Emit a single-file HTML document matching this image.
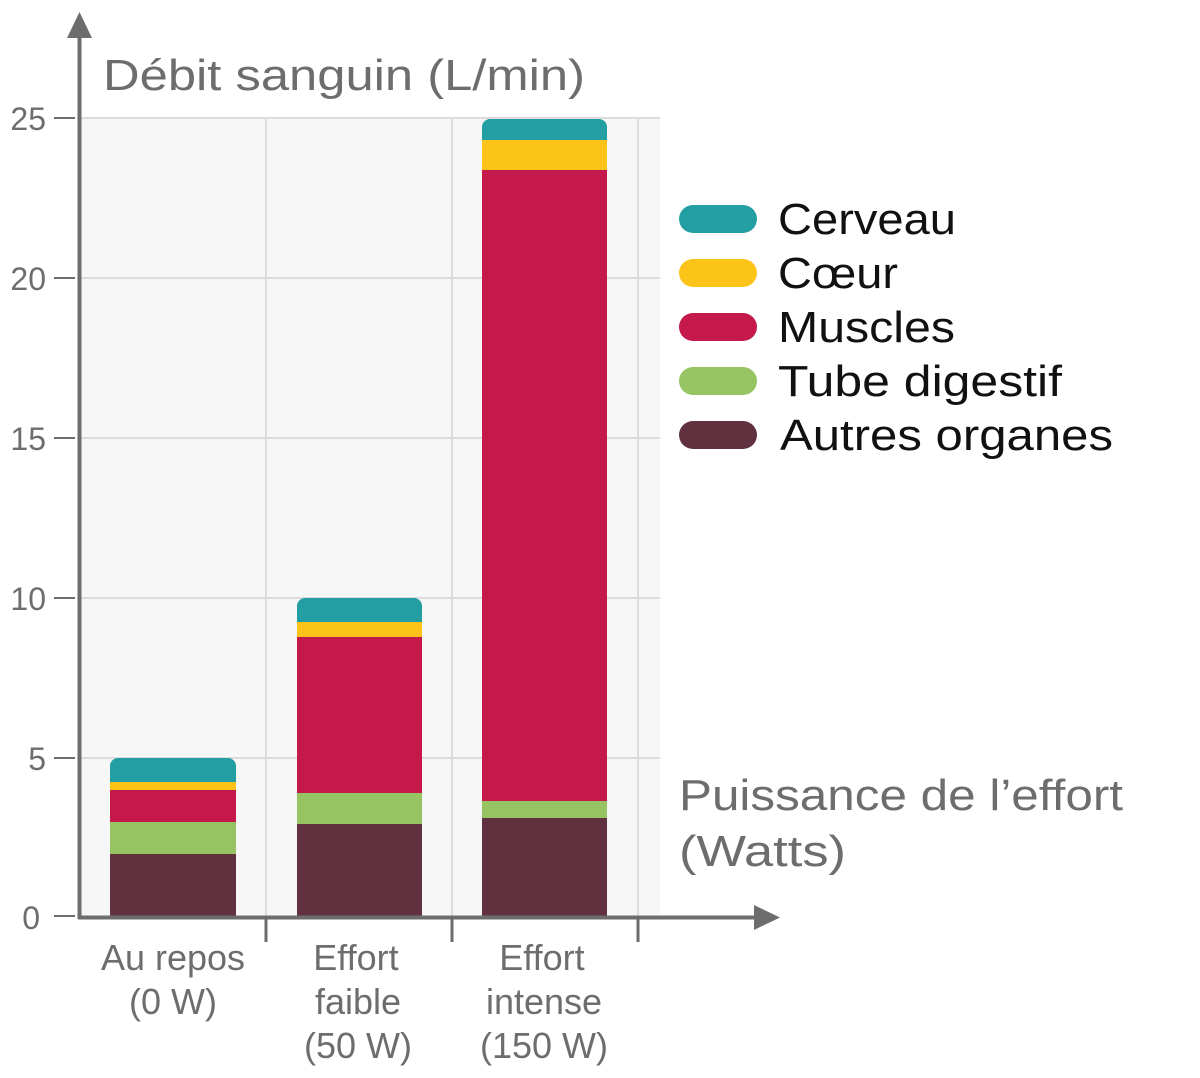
<!DOCTYPE html>
<html><head><meta charset="utf-8"><style>
html,body{margin:0;padding:0;background:#fff;width:1200px;height:1078px;overflow:hidden}
svg text{font-family:"Liberation Sans",sans-serif;fill:#6d6d6d}
svg text.leg{fill:#111}
</style></head><body>
<svg width="1200" height="1078" viewBox="0 0 1200 1078" xmlns="http://www.w3.org/2000/svg">
<rect x="80" y="118" width="580" height="799" fill="#f7f7f7"/>
<g stroke="#dcdcdc" stroke-width="2">
<line x1="80" y1="118" x2="660" y2="118"/>
<line x1="80" y1="278" x2="660" y2="278"/>
<line x1="80" y1="438" x2="660" y2="438"/>
<line x1="80" y1="598" x2="660" y2="598"/>
<line x1="80" y1="758" x2="660" y2="758"/>
<line x1="266" y1="118" x2="266" y2="917"/>
<line x1="452" y1="118" x2="452" y2="917"/>
<line x1="638" y1="118" x2="638" y2="917"/>
</g>
<path d="M110,917V766a8,8 0 0 1 8,-8H228a8,8 0 0 1 8,8V917Z" fill="#239fa3"/>
<rect x="110" y="782" width="126" height="8" fill="#fcc419"/>
<rect x="110" y="790" width="126" height="32" fill="#c4194a"/>
<rect x="110" y="822" width="126" height="32" fill="#96c462"/>
<rect x="110" y="854" width="126" height="63" fill="#613140"/>
<path d="M297,917V606a8,8 0 0 1 8,-8H414a8,8 0 0 1 8,8V917Z" fill="#239fa3"/>
<rect x="297" y="622" width="125" height="15" fill="#fcc419"/>
<rect x="297" y="637" width="125" height="156" fill="#c4194a"/>
<rect x="297" y="793" width="125" height="31" fill="#96c462"/>
<rect x="297" y="824" width="125" height="93" fill="#613140"/>
<path d="M482,917V127a8,8 0 0 1 8,-8H599a8,8 0 0 1 8,8V917Z" fill="#239fa3"/>
<rect x="482" y="140" width="125" height="30" fill="#fcc419"/>
<rect x="482" y="170" width="125" height="631" fill="#c4194a"/>
<rect x="482" y="801" width="125" height="17" fill="#96c462"/>
<rect x="482" y="818" width="125" height="99" fill="#613140"/>
<g stroke="#6d6d6d">
<line x1="79.5" y1="30" x2="79.5" y2="919" stroke-width="4"/>
<line x1="78" y1="917.5" x2="760" y2="917.5" stroke-width="4"/>
<g stroke-width="2">
<line x1="54" y1="118" x2="75" y2="118"/>
<line x1="54" y1="278" x2="75" y2="278"/>
<line x1="54" y1="438" x2="75" y2="438"/>
<line x1="54" y1="598" x2="75" y2="598"/>
<line x1="54" y1="758" x2="75" y2="758"/>
<line x1="54" y1="916" x2="75" y2="916"/>
</g>
<g stroke-width="3">
<line x1="266" y1="919" x2="266" y2="942"/>
<line x1="452" y1="919" x2="452" y2="942"/>
<line x1="638" y1="919" x2="638" y2="942"/>
</g>
</g>
<polygon points="79.5,12 67,38 92,38" fill="#6d6d6d"/>
<polygon points="780,917.5 754,905 754,930" fill="#6d6d6d"/>
<g font-size="32" text-anchor="end">
<text x="46" y="130">25</text>
<text x="46" y="290">20</text>
<text x="46" y="450">15</text>
<text x="46" y="610">10</text>
<text x="46" y="770">5</text>
<text x="40" y="929">0</text>
</g>
<text x="103" y="90" font-size="44" textLength="482" lengthAdjust="spacingAndGlyphs">Débit sanguin (L/min)</text>
<text x="679" y="810" font-size="44" textLength="444" lengthAdjust="spacingAndGlyphs">Puissance de l’effort</text>
<text x="679" y="866" font-size="44" textLength="167" lengthAdjust="spacingAndGlyphs">(Watts)</text>
<g font-size="36" text-anchor="middle">
<text x="173" y="970">Au repos</text>
<text x="173" y="1014">(0 W)</text>
<text x="356" y="970">Effort</text>
<text x="358" y="1014">faible</text>
<text x="358" y="1058">(50 W)</text>
<text x="542" y="970">Effort</text>
<text x="544" y="1014">intense</text>
<text x="544" y="1058">(150 W)</text>
</g>
<rect x="679" y="205" width="78" height="28" rx="14" fill="#239fa3"/>
<rect x="679" y="259" width="78" height="28" rx="14" fill="#fcc419"/>
<rect x="679" y="313" width="78" height="28" rx="14" fill="#c4194a"/>
<rect x="679" y="367" width="78" height="28" rx="14" fill="#96c462"/>
<rect x="679" y="421" width="78" height="28" rx="14" fill="#613140"/>
<g font-size="44">
<text class="leg" x="778" y="234" textLength="178" lengthAdjust="spacingAndGlyphs">Cerveau</text>
<text class="leg" x="778" y="288" textLength="120" lengthAdjust="spacingAndGlyphs">Cœur</text>
<text class="leg" x="778" y="342" textLength="177" lengthAdjust="spacingAndGlyphs">Muscles</text>
<text class="leg" x="778" y="396" textLength="284" lengthAdjust="spacingAndGlyphs">Tube digestif</text>
<text class="leg" x="780" y="450" textLength="333" lengthAdjust="spacingAndGlyphs">Autres organes</text>
</g>
</svg>
</body></html>
